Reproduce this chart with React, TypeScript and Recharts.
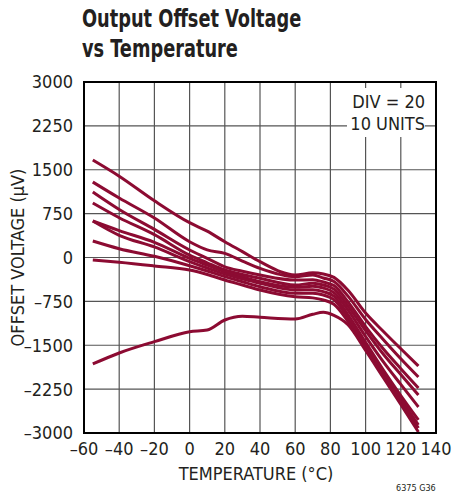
import { LineChart, Line, XAxis, YAxis, CartesianGrid, ReferenceArea } from "recharts";

const FONT = "'Liberation Sans Narrow', 'DejaVu Sans Condensed', 'Liberation Sans', sans-serif";
const LINE_COLOR = "#8c0b32";

// temperature points (°C) shared by all curves
const TEMPS = [-55, -40, -20, 0, 10, 20, 30, 40, 60, 70, 76, 82, 90, 100, 110, 120, 130];

// offset voltage (µV), one array per unit
const UNIT_1 = [1666, 1390, 970, 595, 450, 270, 100, -72, -299, -262, -282, -340, -560, -950, -1260, -1560, -1854];
const UNIT_2 = [1290, 1017, 675, 270, 130, 71, -60, -185, -328, -300, -350, -410, -660, -1060, -1400, -1730, -2042];
const UNIT_3 = [1119, 820, 480, 128, -15, -160, -235, -299, -385, -380, -419, -480, -760, -1180, -1560, -1900, -2230];
const UNIT_4 = [931, 680, 390, 40, -90, -214, -290, -356, -470, -440, -470, -540, -830, -1250, -1650, -2000, -2350];
const UNIT_5 = [624, 460, 260, -14, -130, -243, -330, -413, -510, -490, -521, -600, -900, -1350, -1780, -2170, -2555];
const UNIT_6 = [624, 380, 180, -72, -180, -282, -365, -441, -555, -550, -584, -660, -980, -1450, -1920, -2360, -2777];
const UNIT_7 = [282, 150, 20, -140, -230, -328, -415, -499, -612, -610, -641, -720, -1030, -1500, -1970, -2420, -2862];
const UNIT_8 = [-43, -82, -145, -214, -290, -385, -470, -555, -670, -690, -726, -800, -1090, -1530, -2000, -2460, -2914];
const UNIT_9 = [-1820, -1632, -1439, -1270, -1239, -1068, -1005, -1022, -1051, -970, -937, -990, -1150, -1590, -2050, -2510, -2982];

const UNITS = [UNIT_1, UNIT_2, UNIT_3, UNIT_4, UNIT_5, UNIT_6, UNIT_7, UNIT_8, UNIT_9];

const X_TICKS = [-60, -40, -20, 0, 20, 40, 60, 80, 100, 120, 140];
const Y_TICKS = [-3000, -2250, -1500, -750, 0, 750, 1500, 2250, 3000];

const TITLE = ["Output Offset Voltage", "vs Temperature"];

const data = TEMPS.map((t, i) => {
  const row: Record<string, number> = { t };
  UNITS.forEach((u, k) => {
    row["u" + (k + 1)] = u[i];
  });
  return row;
});

const fmt = (v: number) => (v < 0 ? "\u2013" + Math.abs(v) : String(v));

export default function App() {
  return (
    <div style={{ position: "absolute", left: 0, top: 0, width: 466, height: 496, background: "#fff", overflow: "hidden" }}>
      {TITLE.map((line, i) => (
        <div
          key={i}
          style={{
            position: "absolute",
            left: 82,
            top: 4 + i * 29.5,
            height: 29,
            fontFamily: FONT,
            fontWeight: "bold",
            fontSize: 25,
            lineHeight: "29px",
            color: "#231f20",
            transform: "scaleX(0.79)",
            transformOrigin: "left top",
            whiteSpace: "nowrap",
          }}
        >
          {line}
        </div>
      ))}
      <LineChart width={466} height={496} data={data} margin={{ top: 82, right: 30, bottom: 3, left: 0 }}>
        <CartesianGrid stroke="#555" strokeWidth={1.2} />
        <XAxis
          dataKey="t"
          type="number"
          domain={[-60, 140]}
          ticks={X_TICKS}
          tickFormatter={fmt}
          interval={0}
          height={60}
          tickLine={false}
          axisLine={{ stroke: "#000", strokeWidth: 2 }}
          tick={{ fill: "#231f20", fontSize: 18, fontFamily: FONT }}
          tickMargin={3}
          label={{
            content: ({ viewBox }: any) => (
              <text
                x={viewBox.x + viewBox.width / 2 - 4}
                y={viewBox.y + 47}
                textAnchor="middle"
                fill="#231f20"
                fontSize={18}
                fontFamily={FONT}
              >
                TEMPERATURE (°C)
              </text>
            ),
          }}
        />
        <YAxis
          type="number"
          domain={[-3000, 3000]}
          ticks={Y_TICKS}
          tickFormatter={fmt}
          interval={0}
          width={84}
          tickLine={false}
          axisLine={{ stroke: "#000", strokeWidth: 2 }}
          tick={{ fill: "#231f20", fontSize: 18, fontFamily: FONT }}
          tickMargin={5}
          label={{
            content: ({ viewBox }: any) => (
              <text
                transform={`translate(24, ${viewBox.y + viewBox.height / 2}) rotate(-90)`}
                textAnchor="middle"
                fill="#231f20"
                fontSize={18}
                fontFamily={FONT}
              >
                OFFSET VOLTAGE (µV)
              </text>
            ),
          }}
        />
        <ReferenceArea
          x1={-60}
          x2={140}
          y1={-3000}
          y2={3000}
          fill="none"
          fillOpacity={0}
          stroke="#000"
          strokeWidth={2}
          ifOverflow="visible"
        />
        {UNITS.map((_, k) => (
          <Line
            key={k}
            type="monotone"
            dataKey={"u" + (k + 1)}
            stroke={LINE_COLOR}
            strokeWidth={3}
            dot={false}
            activeDot={false}
            isAnimationActive={false}
          />
        ))}
      </LineChart>
      <div
        style={{
          position: "absolute",
          left: 347,
          top: 88,
          width: 78,
          height: 49,
          background: "#fff",
          fontFamily: FONT,
          fontSize: 18,
          lineHeight: "22px",
          color: "#231f20",
          textAlign: "right",
          paddingTop: 3,
          boxSizing: "border-box",
        }}
      >
        DIV = 20
        <br />
        10 UNITS
      </div>
      <div
        style={{
          position: "absolute",
          left: 396,
          top: 483,
          fontFamily: FONT,
          fontSize: 9,
          lineHeight: "10px",
          color: "#231f20",
        }}
      >
        6375 G36
      </div>
    </div>
  );
}
